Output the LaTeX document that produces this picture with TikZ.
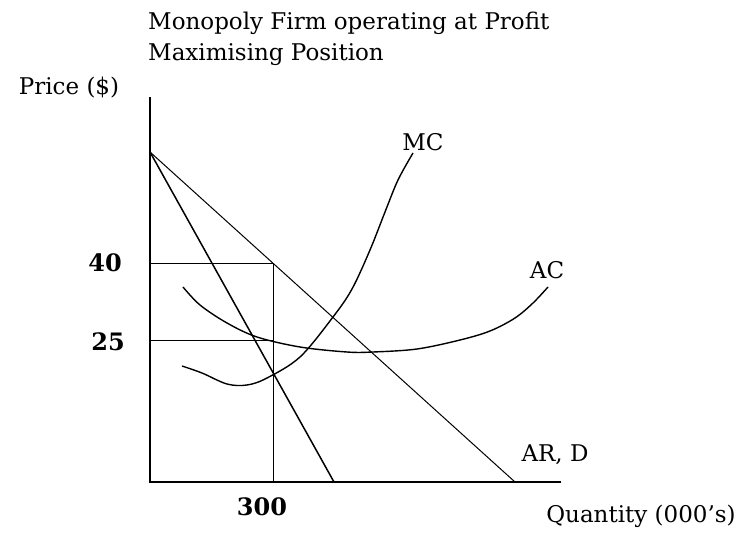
\documentclass[tikz,border=0pt]{standalone}
\usepackage{fontspec}
\setmainfont{DejaVu Serif}
\begin{document}
\begin{tikzpicture}[x=1pt,y=-1pt,
  lbl/.style={inner sep=0pt, font=\fontsize{23}{26}\selectfont},
  numlbl/.style={inner sep=0pt, font=\fontsize{24}{26}\selectfont\bfseries},
  axisline/.style={line width=1.8pt, line cap=rect},
  guide/.style={line width=0.9pt},
  demandline/.style={line width=1.0pt},
  mrline/.style={line width=1.5pt},
  curve/.style={line width=1.4pt}]
\useasboundingbox (0,0) rectangle (745,533);
% key points
\coordinate (O) at (150,482);
\coordinate (Ytop) at (150,98);
\coordinate (Xend) at (560,482);
\coordinate (A) at (150,152);
\coordinate (Dend) at (515,482);
\coordinate (MRend) at (334,482);
\coordinate (P40) at (150,263);
\coordinate (E40) at (273,263);
\coordinate (Q300) at (273,482);
\coordinate (P25) at (150,340);
\coordinate (E25) at (273,340);
% axes
\draw[axisline] (Ytop) -- (O) -- (Xend);
% demand and marginal revenue
\draw[demandline] (A) -- (Dend);
\draw[mrline] (A) -- (MRend);
% price/quantity guides
\draw[guide] (P40) -- (E40) -- (Q300);
\draw[guide] (P25) -- (E25);
% MC curve
\draw[curve] plot[smooth, tension=0.55] coordinates {(182,366) (202,373) (227,384) (247,385) (267,378) (300,357) (333,317) (352,289) (370,250) (385,212) (398,180) (413,153)};
% AC curve
\draw[curve] plot[smooth, tension=0.55] coordinates {(183,287) (200,305) (227,323) (257,337) (300,347) (347,352) (373,352) (417,349) (460,340) (490,331) (515,318) (533,303) (548,287)};
% labels
\node[lbl, anchor=west] (title1) at (148,23) {Monopoly Firm operating at Profit};
\node[lbl, anchor=west] (title2) at (148,55) {Maximising Position};
\node[lbl] (price) at (69,88) {Price (\$)};
\node[numlbl] (p40) at (105,263) {40};
\node[numlbl] (p25) at (108,342) {25};
\node[numlbl] (q300) at (262,507) {300};
\node[lbl] (qty) at (641,516) {Quantity (000's)};
\node[lbl] (mc) at (423,142) {MC};
\node[lbl] (ac) at (547,270) {AC};
\node[lbl] (ard) at (555,455) {AR, D};
\end{tikzpicture}
\end{document}
